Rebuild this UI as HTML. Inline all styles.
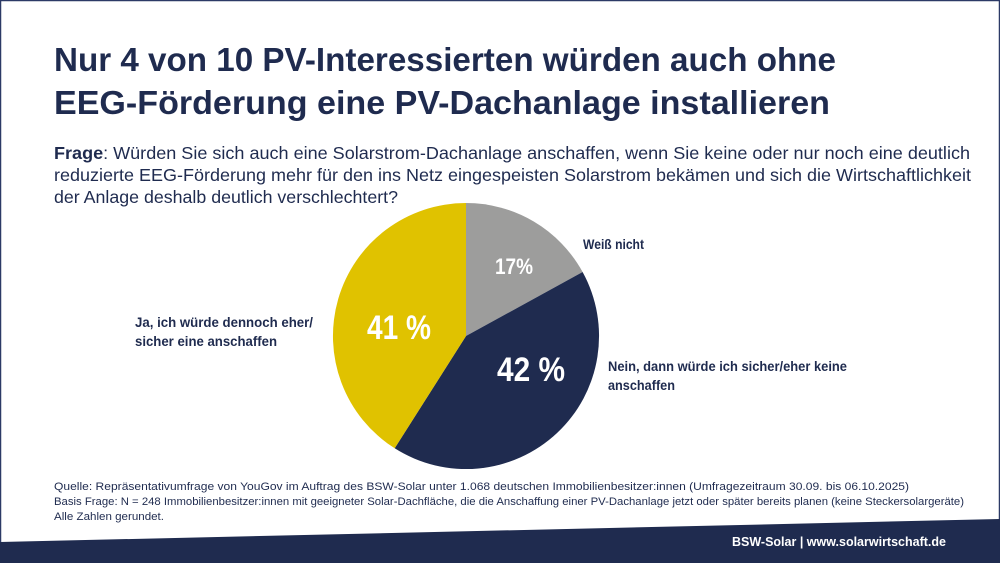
<!DOCTYPE html>
<html><head><meta charset="utf-8"><style>
body{margin:0;width:1000px;height:563px;overflow:hidden;background:#fff}
svg{display:block}
text{font-family:"Liberation Sans Narrow","Liberation Sans",sans-serif}
</style></head><body>
<svg width="1000" height="563" viewBox="0 0 1000 563">
<rect x="0.5" y="0.5" width="999" height="562" fill="#fff" stroke="#2c3a66" stroke-width="1.5"/>
<polygon points="0,542 1000,519 1000,563 0,563" fill="#1f2b4f"/>
<text x="946" y="546" fill="#fff" font-size="13" font-weight="bold" text-anchor="end" textLength="214" lengthAdjust="spacingAndGlyphs">BSW-Solar | www.solarwirtschaft.de</text>
<g fill="#1f2b4f" font-weight="bold" font-size="33">
<text x="54" y="71" textLength="782" lengthAdjust="spacingAndGlyphs">Nur 4 von 10 PV-Interessierten würden auch ohne</text>
<text x="54" y="114" textLength="776" lengthAdjust="spacingAndGlyphs">EEG-Förderung eine PV-Dachanlage installieren</text>
</g>
<g fill="#1f2b4f" font-size="17.5">
<text x="54" y="159" textLength="916" lengthAdjust="spacingAndGlyphs"><tspan font-weight="bold">Frage</tspan>: Würden Sie sich auch eine Solarstrom-Dachanlage anschaffen, wenn Sie keine oder nur noch eine deutlich</text>
<text x="54" y="181" textLength="917" lengthAdjust="spacingAndGlyphs">reduzierte EEG-Förderung mehr für den ins Netz eingespeisten Solarstrom bekämen und sich die Wirtschaftlichkeit</text>
<text x="54" y="203" textLength="344" lengthAdjust="spacingAndGlyphs">der Anlage deshalb deutlich verschlechtert?</text>
</g>
<g>
<path d="M466,336 L466,203 A133,133 0 0 1 582.6,272 Z" fill="#9d9d9c"/>
<path d="M466,336 L582.6,272 A133,133 0 0 1 394.7,448.3 Z" fill="#1f2b4f"/>
<path d="M466,336 L394.7,448.3 A133,133 0 0 1 466,203 Z" fill="#e0c200"/>
</g>
<g fill="#fff" font-weight="bold" text-anchor="middle">
<text x="514" y="274" font-size="22" textLength="38" lengthAdjust="spacingAndGlyphs">17%</text>
<text x="531" y="381" font-size="34" textLength="68" lengthAdjust="spacingAndGlyphs">42 %</text>
<text x="399" y="339" font-size="34" textLength="64" lengthAdjust="spacingAndGlyphs">41 %</text>
</g>
<g fill="#1f2b4f" font-weight="bold" font-size="14">
<text x="583" y="249" textLength="61" lengthAdjust="spacingAndGlyphs">Weiß nicht</text>
<text x="608" y="371" textLength="239" lengthAdjust="spacingAndGlyphs">Nein, dann würde ich sicher/eher keine</text>
<text x="608" y="390" textLength="67" lengthAdjust="spacingAndGlyphs">anschaffen</text>
<text x="135" y="327" textLength="178" lengthAdjust="spacingAndGlyphs">Ja, ich würde dennoch eher/</text>
<text x="135" y="346" textLength="142" lengthAdjust="spacingAndGlyphs">sicher eine anschaffen</text>
</g>
<g fill="#1f2b4f" font-size="11">
<text x="54" y="490" textLength="855" lengthAdjust="spacingAndGlyphs">Quelle: Repräsentativumfrage von YouGov im Auftrag des BSW-Solar unter 1.068 deutschen Immobilienbesitzer:innen (Umfragezeitraum 30.09. bis 06.10.2025)</text>
<text x="54" y="505" textLength="910" lengthAdjust="spacingAndGlyphs">Basis Frage: N = 248 Immobilienbesitzer:innen mit geeigneter Solar-Dachfläche, die die Anschaffung einer PV-Dachanlage jetzt oder später bereits planen (keine Steckersolargeräte)</text>
<text x="54" y="520" textLength="110" lengthAdjust="spacingAndGlyphs">Alle Zahlen gerundet.</text>
</g>
</svg>
</body></html>
